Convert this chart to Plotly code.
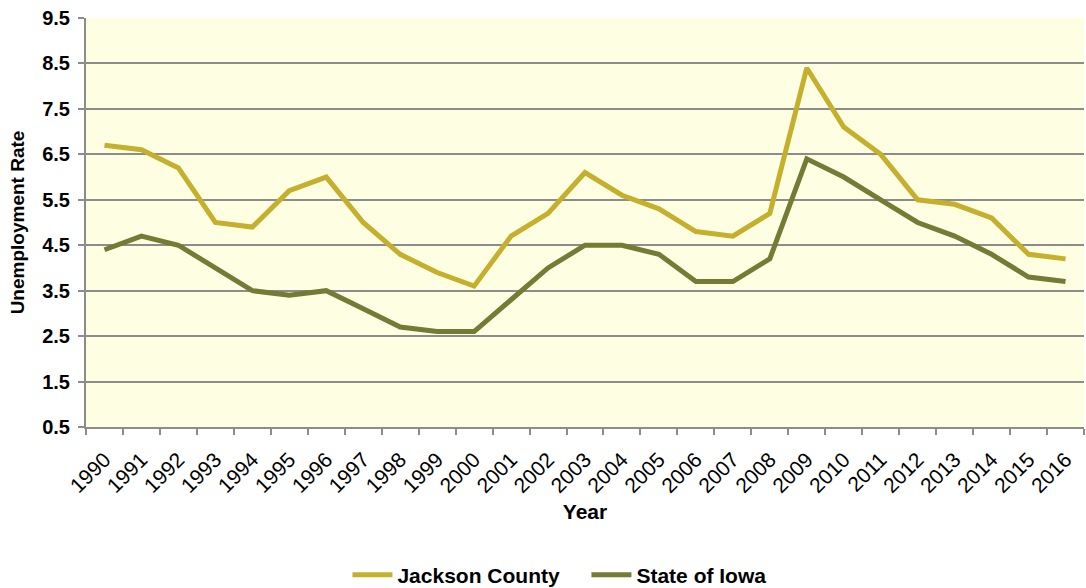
import plotly.graph_objects as go

years = [str(y) for y in range(1990, 2017)]
jackson = [6.7, 6.6, 6.2, 5.0, 4.9, 5.7, 6.0, 5.0, 4.3, 3.9, 3.6, 4.7, 5.2, 6.1, 5.6, 5.3,
           4.8, 4.7, 5.2, 8.4, 7.1, 6.5, 5.5, 5.4, 5.1, 4.3, 4.2]
iowa = [4.4, 4.7, 4.5, 4.0, 3.5, 3.4, 3.5, 3.1, 2.7, 2.6, 2.6, 3.3, 4.0, 4.5, 4.5, 4.3,
        3.7, 3.7, 4.2, 6.4, 6.0, 5.5, 5.0, 4.7, 4.3, 3.8, 3.7]
y_ticks = [0.5, 1.5, 2.5, 3.5, 4.5, 5.5, 6.5, 7.5, 8.5, 9.5]

fig = go.Figure()
fig.add_trace(go.Scatter(x=years, y=jackson, mode="lines", name="Jackson County",
                         line=dict(color="#c4b02c", width=5)))
fig.add_trace(go.Scatter(x=years, y=iowa, mode="lines", name="State of Iowa",
                         line=dict(color="#737b35", width=5)))

font = "Liberation Sans, Arial, sans-serif"
fig.update_layout(
    width=1086, height=588,
    margin=dict(l=86, r=2, t=18, b=161, autoexpand=False),
    paper_bgcolor="white",
    plot_bgcolor="#fefee2",
    font=dict(family=font, color="black"),
    showlegend=True,
    legend=dict(orientation="h", xref="container", yref="container",
                x=0.540, xanchor="center", y=0.022, yanchor="middle",
                font=dict(size=21, family=font, weight="bold"), itemwidth=40,
                entrywidth=184, traceorder="normal"),
    xaxis=dict(
        type="category",
        title=dict(text="<b>Year</b>", font=dict(size=21), standoff=8),
        tickangle=-45,
        tickfont=dict(size=21),
        ticklabelstandoff=10,
        showgrid=False,
        showline=True, linecolor="#8c8c8c", linewidth=2,
        ticks="outside", ticklen=6, tickcolor="#8c8c8c", tickwidth=1.5,
        tickson="boundaries",
        range=[-0.5, 26.5],
    ),
    yaxis=dict(
        title=dict(text="<b>Unemployment Rate</b>", font=dict(size=19), standoff=13),
        range=[0.5, 9.5],
        tickvals=y_ticks,
        ticktext=[f"<b>{v:.1f}</b>" for v in y_ticks],
        tickfont=dict(size=20),
        ticklabelstandoff=4,
        showgrid=True, gridcolor="#8c8c8c", gridwidth=1.5,
        showline=True, linecolor="#8c8c8c", linewidth=2,
        ticks="outside", ticklen=6, tickcolor="#8c8c8c", tickwidth=1.5,
        zeroline=False,
    ),
)

fig.write_html("out.html")
